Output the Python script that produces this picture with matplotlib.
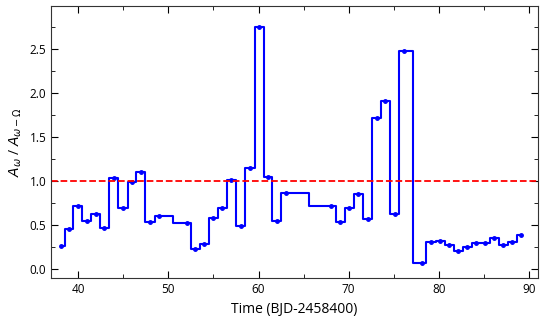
import matplotlib
matplotlib.use("Agg")
import matplotlib.pyplot as plt
from matplotlib.ticker import MultipleLocator

plt.rcParams['font.family'] = ['Open Sans', 'DejaVu Sans']

# time of each segment (BJD-2458400) and amplitude ratio
time = [38.03, 38.96, 39.96, 40.92, 42.0, 42.9, 43.96, 44.96, 46.0, 46.92,
        47.96, 48.96, 52.1, 53.0, 53.96, 55.0, 56.0, 57.0, 58.03, 59.07,
        60.07, 61.07, 62.03, 63.03, 68.07, 69.07, 70.07, 71.07, 72.1, 73.1,
        74.07, 75.1, 76.1, 78.1, 79.14, 80.14, 81.14, 82.14, 83.14, 84.14,
        85.14, 86.14, 87.14, 88.14, 89.14]
ratio = [0.27, 0.46, 0.72, 0.545, 0.63, 0.47, 1.04, 0.70, 0.99, 1.11,
         0.537, 0.61, 0.526, 0.232, 0.293, 0.583, 0.697, 1.02, 0.495, 1.147,
         2.755, 1.047, 0.549, 0.864, 0.72, 0.54, 0.693, 0.853, 0.578, 1.72,
         1.913, 0.624, 2.48, 0.069, 0.312, 0.32, 0.28, 0.213, 0.255, 0.304,
         0.304, 0.358, 0.278, 0.312, 0.392]

fig = plt.figure(figsize=(5.45, 3.27), dpi=100)
ax = fig.add_axes([0.094, 0.149, 0.893, 0.833])

ax.plot(time, ratio, color='blue', drawstyle='steps-mid', lw=1.5,
        marker='.', ms=5)
ax.axhline(1.0, color='red', ls='--', lw=1.3)

ax.set_xlim(37, 91)
ax.set_ylim(-0.1, 2.99)
ax.xaxis.set_major_locator(MultipleLocator(10))
ax.xaxis.set_minor_locator(MultipleLocator(5))
ax.yaxis.set_major_locator(MultipleLocator(0.5))
ax.yaxis.set_minor_locator(MultipleLocator(0.25))
ax.tick_params(which='both', direction='in', top=True, right=True, labelsize=8.5)
ax.tick_params(which='major', length=5)
ax.tick_params(which='minor', length=3)
for s in ax.spines.values():
    s.set_color('#333333')

ax.set_xlabel('Time (BJD-2458400)', fontsize=10)
ax.set_ylabel(r'$A_\omega$ / $A_{\omega-\Omega}$', fontsize=10)

fig.savefig('out.png', dpi=100)
